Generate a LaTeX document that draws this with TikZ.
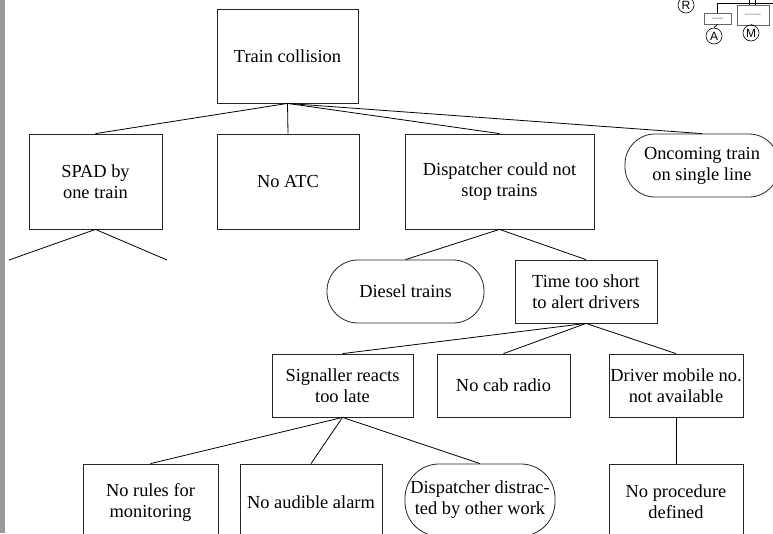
\documentclass[tikz,border=0pt]{standalone}
\usepackage{fontspec}
\setmainfont{Liberation Serif}
\newfontfamily\tinysans{Liberation Sans}
\begin{document}
\begin{tikzpicture}[x=1pt,y=-1pt,
  box/.style={draw=black!85, line width=0.8pt, align=center, inner sep=0pt,
    font=\fontsize{18.4}{21}\selectfont},
  stadium/.style={box, rounded corners=#1},
  conn/.style={draw=black, line width=0.8pt},
  tinybox/.style={draw=black!60, line width=0.6pt, inner sep=0pt, align=center,
    font=\tinysans\fontsize{2.5}{3}\selectfont, text=black!60},
  tinycirc/.style={draw=black, line width=0.6pt, circle, inner sep=0pt,
    minimum size=16pt, font=\tinysans\fontsize{12}{14}\selectfont}]
\useasboundingbox (0,0) rectangle (773,533);
\clip (0,0) rectangle (773,533);
\fill[white] (0,0) rectangle (773,533);
\fill[black!40] (0,0) rectangle (5,533);

% main tree
\node[box, minimum width=141pt, minimum height=94pt] (tc) at (287.5,56) {Train collision};
\node[box, minimum width=133pt, minimum height=95pt] (spad) at (95.5,181.5) {SPAD by\\one train};
\node[box, minimum width=142pt, minimum height=95pt] (noatc) at (288,181.5) {No ATC};
\node[box, minimum width=189pt, minimum height=95pt] (disp) at (499.5,181.5) {Dispatcher could not\\stop trains};
\node[stadium=30pt, minimum width=154pt, minimum height=63pt] (onc) at (702,165.5) {Oncoming train\\on single line};

\node[stadium=31pt, minimum width=157pt, minimum height=63pt] (diesel) at (405.5,291.5) {Diesel trains};
\node[box, minimum width=142pt, minimum height=63pt] (time) at (586,291.5) {Time too short\\to alert drivers};

\node[box, minimum width=141pt, minimum height=63pt] (sig) at (342.5,385.5) {Signaller reacts\\too late};
\node[box, minimum width=133pt, minimum height=63pt] (cab) at (503.5,385.5) {No cab radio};
\node[box, minimum width=134pt, minimum height=63pt] (drv) at (676,385.5) {Driver mobile no.\\not available};

\node[box, minimum width=135pt, minimum height=76pt] (rules) at (150.5,502) {No rules for\\monitoring};
\node[box, minimum width=142pt, minimum height=76pt] (alarm) at (311,502) {No audible alarm};
\node[stadium=34pt, minimum width=150pt, minimum height=72pt] (distr) at (480,500) {Dispatcher distrac-\\ted by other work};
\node[box, minimum width=134pt, minimum height=76pt] (proc) at (676,502) {No procedure\\defined};

\coordinate (spadL) at (9,260);
\coordinate (spadR) at (167,260);

\draw[conn] (tc.south) -- (spad.north);
\draw[conn] (tc.south) -- (noatc.north);
\draw[conn] (tc.south) -- (disp.north);
\draw[conn] (tc.south) -- (onc.north);
\draw[conn] (spad.south) -- (spadL);
\draw[conn] (spad.south) -- (spadR);
\draw[conn] (disp.south) -- (diesel.north);
\draw[conn] (disp.south) -- (time.north);
\draw[conn] (time.south) -- (sig.north);
\draw[conn] (time.south) -- (cab.north);
\draw[conn] (time.south) -- (drv.north);
\draw[conn] (sig.south) -- (rules.north);
\draw[conn] (sig.south) -- (alarm.north);
\draw[conn] (sig.south) -- (distr.north);
\draw[conn] (drv.south) -- (proc.north);

% small fragment top right
\node[tinycirc] (R) at (686,5) {R};
\node[tinybox, minimum width=27pt, minimum height=11pt] (avail) at (717.5,18.5) {Availability};
\node[tinybox, minimum width=32pt, minimum height=20pt] (maint) at (753,15) {Maintainability};
\node[tinycirc] (A) at (714,36) {A};
\node[tinycirc] (M) at (751,33) {M};
\coordinate (hl) at (717.5,3);
\coordinate (hr) at (773,3);
\coordinate (t1) at (749,0);
\coordinate (t2) at (755,0);
\coordinate (b1) at (749,5);
\coordinate (b2) at (755,5);
\draw[line width=0.7pt] (hl) -- (hr);
\draw[line width=0.7pt] (hl) -- (avail.north);
\draw[line width=0.7pt] (t1) -- (b1);
\draw[line width=0.7pt] (t2) -- (b2);
\draw[line width=0.7pt] (avail.south) -- (A.north);
\draw[line width=0.7pt] (maint.south) -- (M.north);
\end{tikzpicture}
\end{document}
